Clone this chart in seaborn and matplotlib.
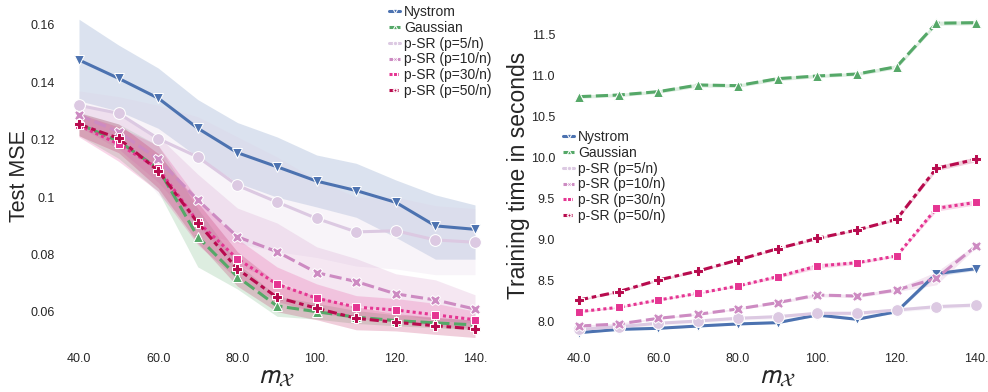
import matplotlib
matplotlib.use("Agg")
import matplotlib.pyplot as plt
import numpy as np
import pandas as pd
import seaborn as sns

# ---------------- data ----------------
m_vals = [40, 50, 60, 70, 80, 90, 100, 110, 120, 130, 140]
methods = ["Nystrom", "Gaussian", "p-SR (p=5/n)", "p-SR (p=10/n)", "p-SR (p=30/n)", "p-SR (p=50/n)"]

# Test MSE (means)
nys_mse = [0.1478, 0.1414, 0.1345, 0.1240, 0.1155, 0.1106, 0.1056, 0.1023, 0.0982, 0.0900, 0.0888]
gau_mse = [0.1255, 0.1195, 0.1100, 0.0862, 0.0723, 0.0621, 0.0601, 0.0582, 0.0570, 0.0562, 0.0555]
p5_mse = [0.1320, 0.1292, 0.1204, 0.1140, 0.1041, 0.0983, 0.0926, 0.0879, 0.0883, 0.0851, 0.0843]
p10_mse = [0.1286, 0.1228, 0.1132, 0.0990, 0.0862, 0.0810, 0.0737, 0.0706, 0.0663, 0.0642, 0.0610]
p30_mse = [0.1250, 0.1185, 0.1100, 0.0914, 0.0785, 0.0697, 0.0648, 0.0617, 0.0607, 0.0590, 0.0573]
p50_mse = [0.1254, 0.1205, 0.1092, 0.0911, 0.0750, 0.0651, 0.0613, 0.0578, 0.0564, 0.0552, 0.0541]

# Test MSE confidence bands (lower / upper)
nys_mse_lo = [0.1336, 0.1300, 0.1240, 0.1140, 0.1050, 0.1000, 0.0966, 0.0930, 0.0860, 0.0784, 0.0784]
nys_mse_hi = [0.1620, 0.1530, 0.1450, 0.1340, 0.1260, 0.1210, 0.1147, 0.1118, 0.1060, 0.1008, 0.0973]
gau_mse_lo = [0.1215, 0.1135, 0.1020, 0.0757, 0.0680, 0.0585, 0.0575, 0.0560, 0.0552, 0.0545, 0.0538]
gau_mse_hi = [0.1295, 0.1255, 0.1180, 0.0960, 0.0770, 0.0655, 0.0630, 0.0605, 0.0590, 0.0580, 0.0573]
p5_mse_lo = [0.1270, 0.1176, 0.1008, 0.0880, 0.0840, 0.0810, 0.0790, 0.0760, 0.0750, 0.0730, 0.0730]
p5_mse_hi = [0.1370, 0.1350, 0.1320, 0.1280, 0.1210, 0.1140, 0.1060, 0.1000, 0.1000, 0.0970, 0.0960]
p10_mse_lo = [0.1246, 0.1168, 0.1052, 0.0900, 0.0762, 0.0710, 0.0647, 0.0626, 0.0593, 0.0572, 0.0560]
p10_mse_hi = [0.1326, 0.1288, 0.1212, 0.1080, 0.0962, 0.0910, 0.0827, 0.0786, 0.0733, 0.0712, 0.0660]
p30_mse_lo = [0.1210, 0.1125, 0.1020, 0.0834, 0.0715, 0.0637, 0.0598, 0.0577, 0.0567, 0.0550, 0.0543]
p30_mse_hi = [0.1290, 0.1245, 0.1180, 0.0994, 0.0855, 0.0757, 0.0698, 0.0657, 0.0647, 0.0630, 0.0603]
p50_mse_lo = [0.1214, 0.1155, 0.1032, 0.0841, 0.0690, 0.0601, 0.0573, 0.0538, 0.0534, 0.0522, 0.0511]
p50_mse_hi = [0.1294, 0.1255, 0.1152, 0.0981, 0.0810, 0.0701, 0.0653, 0.0618, 0.0594, 0.0582, 0.0571]

# Training time (means)
nys_t = [7.870, 7.910, 7.923, 7.951, 7.976, 7.992, 8.085, 8.033, 8.126, 8.590, 8.650]
gau_t = [10.748, 10.768, 10.809, 10.890, 10.882, 10.967, 11.000, 11.024, 11.113, 11.643, 11.650]
p5_t = [7.910, 7.943, 7.984, 8.012, 8.045, 8.065, 8.106, 8.106, 8.146, 8.187, 8.207]
p10_t = [7.951, 7.976, 8.045, 8.094, 8.159, 8.236, 8.329, 8.317, 8.390, 8.533, 8.927]
p30_t = [8.126, 8.179, 8.268, 8.350, 8.439, 8.553, 8.683, 8.723, 8.805, 9.386, 9.459]
p50_t = [8.268, 8.370, 8.512, 8.622, 8.756, 8.894, 9.020, 9.122, 9.252, 9.874, 9.984]

# Training time band half-widths
nys_t_err = [0.010, 0.010, 0.010, 0.010, 0.010, 0.010, 0.015, 0.010, 0.015, 0.030, 0.020]
gau_t_err = [0.020, 0.020, 0.020, 0.025, 0.020, 0.025, 0.020, 0.020, 0.025, 0.025, 0.025]
p5_t_err = [0.025, 0.025, 0.025, 0.025, 0.025, 0.025, 0.025, 0.025, 0.025, 0.025, 0.025]
p10_t_err = [0.010, 0.010, 0.010, 0.010, 0.010, 0.015, 0.020, 0.020, 0.020, 0.080, 0.020]
p30_t_err = [0.010, 0.010, 0.010, 0.010, 0.010, 0.020, 0.030, 0.020, 0.010, 0.035, 0.030]
p50_t_err = [0.010, 0.010, 0.015, 0.010, 0.010, 0.010, 0.015, 0.010, 0.015, 0.030, 0.030]

x_ticks = [40, 60, 80, 100, 120, 140]
x_ticklabels = ["40.0", "60.0", "80.0", "100.", "120.", "140."]
mse_ticks = [0.06, 0.08, 0.10, 0.12, 0.14, 0.16]
mse_ticklabels = ["0.06", "0.08", "0.1", "0.12", "0.14", "0.16"]
t_ticks = [8.0, 8.5, 9.0, 9.5, 10.0, 10.5, 11.0, 11.5]
t_ticklabels = ["8.0", "8.5", "9.0", "9.5", "10.0", "10.5", "11.0", "11.5"]

# ---------------- style ----------------
sns.set_theme(style="white")
plt.rcParams["font.family"] = ["Liberation Sans", "DejaVu Sans"]
plt.rcParams["mathtext.fontset"] = "stixsans"

purd = sns.color_palette("PuRd", 4)
palette = {
    "Nystrom": sns.color_palette("deep")[0],
    "Gaussian": sns.color_palette("deep")[2],
    "p-SR (p=5/n)": purd[0],
    "p-SR (p=10/n)": purd[1],
    "p-SR (p=30/n)": purd[2],
    "p-SR (p=50/n)": purd[3],
}
markers = {
    "Nystrom": "v",
    "Gaussian": "^",
    "p-SR (p=5/n)": "o",
    "p-SR (p=10/n)": "X",
    "p-SR (p=30/n)": "s",
    "p-SR (p=50/n)": "P",
}
marker_sizes = {
    "Nystrom": 7.5,
    "Gaussian": 7.5,
    "p-SR (p=5/n)": 8.5,
    "p-SR (p=10/n)": 7.5,
    "p-SR (p=30/n)": 6.0,
    "p-SR (p=50/n)": 7.5,
}
dashes = {
    "Nystrom": "",
    "Gaussian": (4, 1.5),
    "p-SR (p=5/n)": "",
    "p-SR (p=10/n)": (4, 1.5),
    "p-SR (p=30/n)": (1, 1),
    "p-SR (p=50/n)": (3, 1.25, 1.5, 1.25),
}

mse_means = [nys_mse, gau_mse, p5_mse, p10_mse, p30_mse, p50_mse]
mse_lo = [nys_mse_lo, gau_mse_lo, p5_mse_lo, p10_mse_lo, p30_mse_lo, p50_mse_lo]
mse_hi = [nys_mse_hi, gau_mse_hi, p5_mse_hi, p10_mse_hi, p30_mse_hi, p50_mse_hi]
t_means = [nys_t, gau_t, p5_t, p10_t, p30_t, p50_t]
t_errs = [nys_t_err, gau_t_err, p5_t_err, p10_t_err, p30_t_err, p50_t_err]

rows_mse, rows_t = [], []
for name, vals in zip(methods, mse_means):
    for x, v in zip(m_vals, vals):
        rows_mse.append({"m": x, "value": v, "method": name})
for name, vals in zip(methods, t_means):
    for x, v in zip(m_vals, vals):
        rows_t.append({"m": x, "value": v, "method": name})
df_mse = pd.DataFrame(rows_mse)
df_t = pd.DataFrame(rows_t)

fig = plt.figure(figsize=(9.88, 3.92), dpi=100)
H = 392.0
W = 988.0
ax1 = fig.add_axes([59.2 / W, (H - 349.3) / H, 435.6 / W, 347.3 / H])
ax2 = fig.add_axes([559.2 / W, (H - 349.3) / H, 436.7 / W, 347.3 / H])

# bands
for name, lo, hi in zip(methods, mse_lo, mse_hi):
    ax1.fill_between(m_vals, lo, hi, color=palette[name], alpha=0.2, linewidth=0)
for name, mu, e in zip(methods, t_means, t_errs):
    ax2.fill_between(m_vals, np.array(mu) - np.array(e), np.array(mu) + np.array(e),
                     color=palette[name], alpha=0.2, linewidth=0)

common = dict(x="m", y="value", hue="method", style="method", hue_order=methods,
              style_order=methods, palette=palette, markers=markers, dashes=dashes,
              linewidth=2.2, markersize=8, errorbar=None)
sns.lineplot(data=df_mse, ax=ax1, **common)
sns.lineplot(data=df_t, ax=ax2, **common)

for ax in (ax1, ax2):
    for line, name in zip(ax.lines[:len(methods)], methods):
        line.set_markersize(marker_sizes[name])


def fix_legend(ax, anchor):
    leg = ax.get_legend()
    handles = leg.legend_handles
    labels = [t.get_text() for t in leg.get_texts()]
    leg.remove()
    ax.legend(handles, labels, loc="upper left", bbox_to_anchor=anchor,
              bbox_transform=fig.transFigure, frameon=False, fontsize=10,
              handlelength=0.8, handletextpad=0.3, labelspacing=0.13,
              borderpad=0, borderaxespad=0, markerscale=0.4)


fix_legend(ax1, (389 / W, 1 - 5 / H))
fix_legend(ax2, (563 / W, 1 - 130 / H))

for ax in (ax1, ax2):
    ax.set_xlim(35, 145)
    ax.set_xticks(x_ticks)
    ax.set_xticklabels(x_ticklabels)
    ax.tick_params(labelsize=9, length=0, pad=3)
    ax.set_xlabel(r"$m_{\mathcal{X}}$", fontsize=20)
    ax.xaxis.set_label_coords(0.5, -(363 - 349.3) / 347.3)
    sns.despine(ax=ax, left=True, bottom=True)

ax1.set_ylim(0.047, 0.168)
ax1.set_yticks(mse_ticks)
ax1.set_yticklabels(mse_ticklabels)
ax1.set_ylabel("Test MSE", fontsize=15.5)
ax1.yaxis.set_label_coords((30 - 59.2) / 435.6, 0.5)

ax2.set_ylim(7.667, 11.902)
ax2.set_yticks(t_ticks)
ax2.set_yticklabels(t_ticklabels)
ax2.set_ylabel("Training time in seconds", fontsize=16.5)
ax2.yaxis.set_label_coords((530 - 559.2) / 436.7, 0.5)

fig.savefig("out.png", dpi=100)
